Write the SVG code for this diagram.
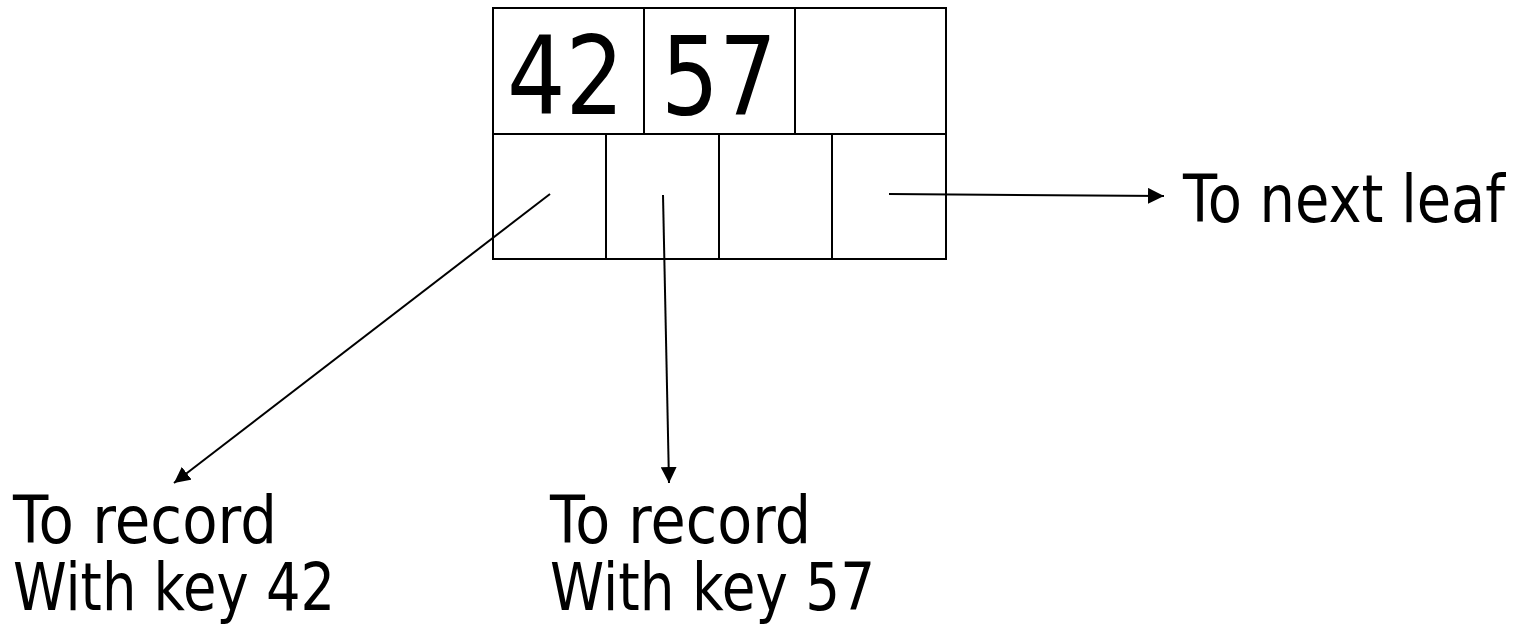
<svg xmlns="http://www.w3.org/2000/svg" width="1533" height="629" viewBox="0 0 1533 629">
  <style>
    .cell { fill: #fff; stroke: #000; stroke-width: 2; }
    .big { font-family: "DejaVu Sans", Verdana, sans-serif; font-size: 108px; fill: #000; }
    .lbl { font-family: "DejaVu Sans", Verdana, sans-serif; font-size: 66px; fill: #000; }
    .conn { stroke: #000; stroke-width: 2; fill: none; marker-end: url(#ah); }
  </style>
  <defs>
    <marker id="ah" markerUnits="userSpaceOnUse" markerWidth="18" markerHeight="16" refX="16" refY="8" orient="auto">
      <path d="M0,0 L16,8 L0,16 Z" fill="#000"/>
    </marker>
  </defs>
  <rect width="1533" height="629" fill="#fff"/>
  <g id="leaf-node">
    <rect class="cell" x="493" y="8" width="151" height="126"/>
    <rect class="cell" x="644" y="8" width="151" height="126"/>
    <rect class="cell" x="795" y="8" width="151" height="126"/>
    <rect class="cell" x="493" y="134" width="113" height="125"/>
    <rect class="cell" x="606" y="134" width="113" height="125"/>
    <rect class="cell" x="719" y="134" width="113" height="125"/>
    <rect class="cell" x="832" y="134" width="114" height="125"/>
    <text class="big" x="507" y="114" textLength="117" lengthAdjust="spacingAndGlyphs">42</text>
    <text class="big" x="661" y="114" textLength="116" lengthAdjust="spacingAndGlyphs">57</text>
  </g>
  <g id="connectors">
    <line class="conn" x1="550" y1="194" x2="174" y2="483"/>
    <line class="conn" x1="663" y1="195" x2="669" y2="483"/>
    <line class="conn" x1="889" y1="194" x2="1164" y2="196"/>
  </g>
  <g id="label-next">
    <text class="lbl" x="1183" y="222" textLength="322" lengthAdjust="spacingAndGlyphs">To next leaf</text>
  </g>
  <g id="label-42">
    <text class="lbl" x="13" y="543" textLength="264" lengthAdjust="spacingAndGlyphs">To record</text>
    <text class="lbl" x="13" y="610" textLength="322" lengthAdjust="spacingAndGlyphs">With key 42</text>
  </g>
  <g id="label-57">
    <text class="lbl" x="550" y="543" textLength="261" lengthAdjust="spacingAndGlyphs">To record</text>
    <text class="lbl" x="550" y="610" textLength="325" lengthAdjust="spacingAndGlyphs">With key 57</text>
  </g>
</svg>
